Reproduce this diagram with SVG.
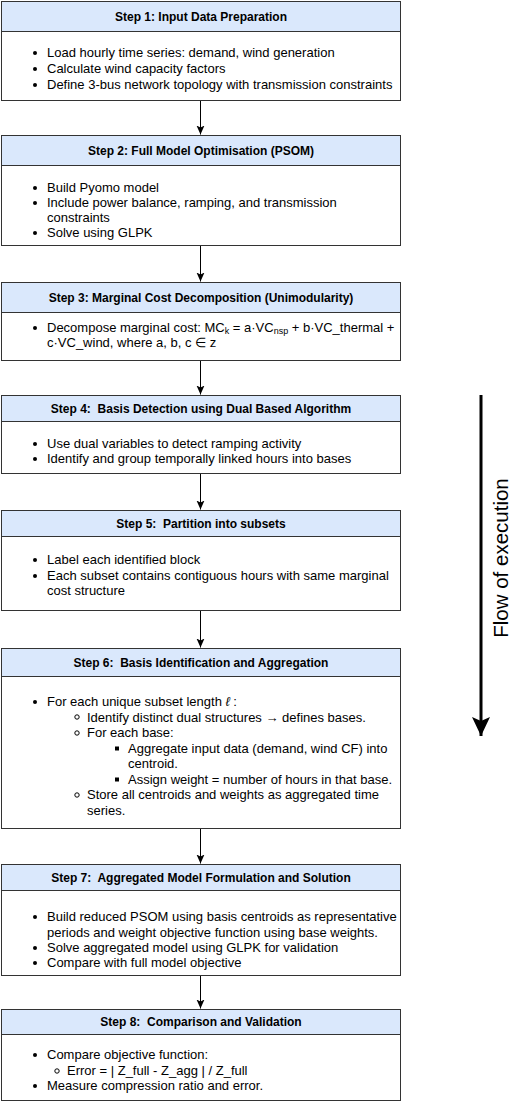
<svg xmlns="http://www.w3.org/2000/svg" width="516" height="1110" viewBox="0 0 516 1110">
<style>
.box{fill:#ffffff;stroke:#333333;stroke-width:1}
.hdr{fill:#dae8fc;stroke:#333333;stroke-width:1}
.ttl{font-family:"Liberation Sans",Arial,sans-serif;font-size:12px;font-weight:bold;fill:#000;text-anchor:middle}
.txt{font-family:"Liberation Sans",Arial,sans-serif;font-size:13px;fill:#000}
.sub{font-size:9px}
.b1{fill:#000}
.b2{fill:none;stroke:#000;stroke-width:1}
.b3{fill:#000}
.con{stroke:#000;stroke-width:1;fill:none}
.flow{stroke:#000;stroke-width:3;fill:none}
.flowtxt{font-family:"Liberation Sans",Arial,sans-serif;font-size:20.5px;fill:#000;text-anchor:middle}
</style>
<defs>
<marker id="ah" markerUnits="userSpaceOnUse" markerWidth="10" markerHeight="10" viewBox="0 0 10 10" refX="9" refY="5" orient="auto">
<path d="M0,1 L9,5 L0,9 L2,5 z" fill="#000"/>
</marker>
<marker id="ahb" markerUnits="userSpaceOnUse" markerWidth="20" markerHeight="18" viewBox="0 0 20 18" refX="19" refY="9" orient="auto">
<path d="M0,0 L19,9 L0,18 L4,9 z" fill="#000"/>
</marker>
</defs>

<g id="connectors">
<line class="con" x1="200.5" y1="100.5" x2="200.5" y2="134.5" marker-end="url(#ah)"/>
<line class="con" x1="200.5" y1="245.5" x2="200.5" y2="281.5" marker-end="url(#ah)"/>
<line class="con" x1="200.5" y1="360.5" x2="200.5" y2="394.5" marker-end="url(#ah)"/>
<line class="con" x1="200.5" y1="473.5" x2="200.5" y2="509.5" marker-end="url(#ah)"/>
<line class="con" x1="200.5" y1="610.5" x2="200.5" y2="647.5" marker-end="url(#ah)"/>
<line class="con" x1="200.5" y1="828.5" x2="200.5" y2="863.5" marker-end="url(#ah)"/>
<line class="con" x1="200.5" y1="975.5" x2="200.5" y2="1008.5" marker-end="url(#ah)"/>
</g>

<g id="step1">
<rect class="box" x="1.5" y="1.5" width="399" height="99"/>
<rect class="hdr" x="1.5" y="1.5" width="399" height="30"/>
<text class="ttl" x="201" y="20.5">Step 1: Input Data Preparation</text>
<circle class="b1" cx="35" cy="53" r="2"/>
<circle class="b1" cx="35" cy="69" r="2"/>
<circle class="b1" cx="35" cy="85" r="2"/>
<text class="txt" x="47" y="57">Load hourly time series: demand, wind generation</text>
<text class="txt" x="47" y="73">Calculate wind capacity factors</text>
<text class="txt" x="47" y="89">Define 3-bus network topology with transmission constraints</text>
</g>

<g id="step2">
<rect class="box" x="1.5" y="135.5" width="399" height="110"/>
<rect class="hdr" x="1.5" y="135.5" width="399" height="30"/>
<text class="ttl" x="201" y="154.5">Step 2: Full Model Optimisation (PSOM)</text>
<circle class="b1" cx="35" cy="188" r="2"/>
<circle class="b1" cx="35" cy="203" r="2"/>
<circle class="b1" cx="35" cy="233" r="2"/>
<text class="txt" x="47" y="192">Build Pyomo model</text>
<text class="txt" x="47" y="207">Include power balance, ramping, and transmission</text>
<text class="txt" x="47" y="222">constraints</text>
<text class="txt" x="47" y="237">Solve using GLPK</text>
</g>

<g id="step3">
<rect class="box" x="1.5" y="282.5" width="399" height="78"/>
<rect class="hdr" x="1.5" y="282.5" width="399" height="30"/>
<text class="ttl" x="201" y="301.5">Step 3: Marginal Cost Decomposition (Unimodularity)</text>
<circle class="b1" cx="35" cy="328" r="2"/>
<text class="txt" x="47" y="332">Decompose marginal cost: MC<tspan class="sub" dy="2">k</tspan><tspan dy="-2"> = a·VC</tspan><tspan class="sub" dy="2">nsp</tspan><tspan dy="-2"> + b·VC_thermal +</tspan></text>
<text class="txt" x="47" y="347">c·VC_wind, where a, b, c ∈ z</text>
</g>

<g id="step4">
<rect class="box" x="1.5" y="395.5" width="399" height="78"/>
<rect class="hdr" x="1.5" y="395.5" width="399" height="26"/>
<text class="ttl" x="201" y="412.5" xml:space="preserve">Step 4:  Basis Detection using Dual Based Algorithm</text>
<circle class="b1" cx="35" cy="444" r="2"/>
<circle class="b1" cx="35" cy="459" r="2"/>
<text class="txt" x="47" y="448">Use dual variables to detect ramping activity</text>
<text class="txt" x="47" y="463">Identify and group temporally linked hours into bases</text>
</g>

<g id="step5">
<rect class="box" x="1.5" y="510.5" width="399" height="100"/>
<rect class="hdr" x="1.5" y="510.5" width="399" height="26"/>
<text class="ttl" x="201" y="527.5" xml:space="preserve">Step 5:  Partition into subsets</text>
<circle class="b1" cx="35" cy="560" r="2"/>
<circle class="b1" cx="35" cy="576" r="2"/>
<text class="txt" x="47" y="564">Label each identified block</text>
<text class="txt" x="47" y="580">Each subset contains contiguous hours with same marginal</text>
<text class="txt" x="47" y="595">cost structure</text>
</g>

<g id="step6">
<rect class="box" x="1.5" y="648.5" width="399" height="180"/>
<rect class="hdr" x="1.5" y="648.5" width="399" height="28"/>
<text class="ttl" x="201" y="666.5" xml:space="preserve">Step 6:  Basis Identification and Aggregation</text>
<circle class="b1" cx="35" cy="702" r="2"/>
<text class="txt" x="47" y="706">For each unique subset length <tspan font-style="italic">ℓ</tspan> :</text>
<circle class="b2" cx="77" cy="717" r="2.2"/>
<text class="txt" x="87" y="721.5">Identify distinct dual structures → defines bases.</text>
<circle class="b2" cx="77" cy="733" r="2.2"/>
<text class="txt" x="87" y="737">For each base:</text>
<rect class="b3" x="115" y="746.5" width="4" height="4"/>
<text class="txt" x="128" y="752.5">Aggregate input data (demand, wind CF) into</text>
<text class="txt" x="128" y="768">centroid.</text>
<rect class="b3" x="115" y="777.5" width="4" height="4"/>
<text class="txt" x="128" y="783.5">Assign weight = number of hours in that base.</text>
<circle class="b2" cx="77" cy="795" r="2.2"/>
<text class="txt" x="87" y="799">Store all centroids and weights as aggregated time</text>
<text class="txt" x="87" y="814.5">series.</text>
</g>

<g id="step7">
<rect class="box" x="1.5" y="864.5" width="399" height="111"/>
<rect class="hdr" x="1.5" y="864.5" width="399" height="26"/>
<text class="ttl" x="201" y="881.5" xml:space="preserve">Step 7:  Aggregated Model Formulation and Solution</text>
<circle class="b1" cx="35" cy="917" r="2"/>
<circle class="b1" cx="35" cy="948" r="2"/>
<circle class="b1" cx="35" cy="963" r="2"/>
<text class="txt" x="47" y="921">Build reduced PSOM using basis centroids as representative</text>
<text class="txt" x="47" y="937">periods and weight objective function using base weights.</text>
<text class="txt" x="47" y="952">Solve aggregated model using GLPK for validation</text>
<text class="txt" x="47" y="967">Compare with full model objective</text>
</g>

<g id="step8">
<rect class="box" x="1.5" y="1009.5" width="399" height="91"/>
<rect class="hdr" x="1.5" y="1009.5" width="399" height="25"/>
<text class="ttl" x="201" y="1026" xml:space="preserve">Step 8:  Comparison and Validation</text>
<circle class="b1" cx="35" cy="1055" r="2"/>
<text class="txt" x="47" y="1059">Compare objective function:</text>
<circle class="b2" cx="57" cy="1071" r="2.2"/>
<text class="txt" x="67" y="1075">Error = | Z_full - Z_agg | / Z_full</text>
<circle class="b1" cx="35" cy="1086" r="2"/>
<text class="txt" x="47" y="1090">Measure compression ratio and error.</text>
</g>

<g id="flow">
<line class="flow" x1="481" y1="395" x2="481" y2="736" marker-end="url(#ahb)"/>
<text class="flowtxt" transform="translate(508,558) rotate(-90)">Flow of execution</text>
</g>
</svg>
